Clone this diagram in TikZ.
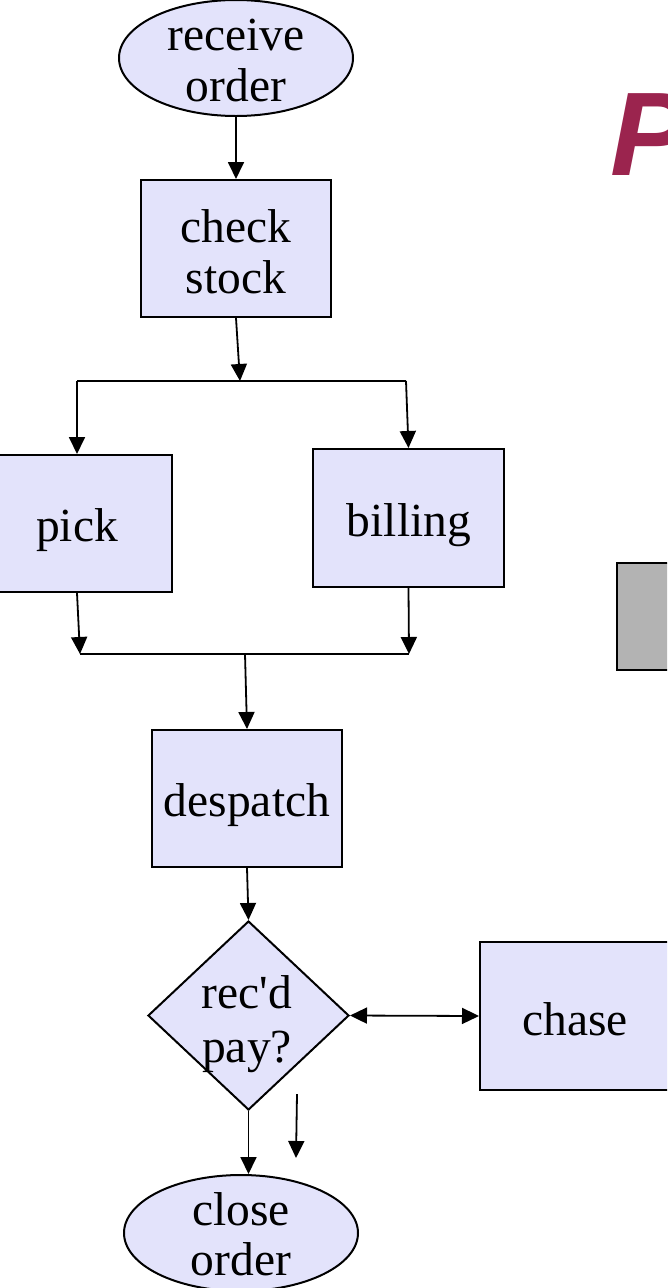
\documentclass[tikz,border=0pt]{standalone}
\usepackage{fontspec}
\setmainfont{Liberation Serif}[Ligatures=TeXOff]
\newfontfamily\headfont{Liberation Sans}
\usetikzlibrary{shapes.geometric, arrows.meta, calc}
\definecolor{boxfill}{RGB}{227,227,251}
\definecolor{titlered}{RGB}{155,36,78}
\definecolor{greybox}{RGB}{179,179,179}

\begin{document}
\begin{tikzpicture}[x=1pt, y=-1pt,
  shapeline/.style={draw=black, line width=2pt, fill=boxfill},
  procbox/.style={shapeline, rectangle, minimum width=190pt, minimum height=137pt, inner sep=0pt},
  termnode/.style={shapeline, ellipse, minimum width=234pt, minimum height=116pt, inner sep=0pt},
  decnode/.style={shapeline, diamond, minimum width=201pt, minimum height=189pt, inner sep=0pt},
  lbl/.style={font=\fontsize{47.5}{51}\selectfont, align=center, inner sep=0pt, anchor=base},
  flow/.style={line width=1.8pt},
  arr/.style={flow, -{Triangle[length=17pt,width=16pt]}},
  arrboth/.style={flow, {Triangle[length=17pt,width=16pt]}-{Triangle[length=17pt,width=16pt]}},
]
\useasboundingbox (0,0) rectangle (667,1288);
\clip (0,0) rectangle (667,1288);

% heading letter and the grey box at the right edge
\node[font=\headfont\bfseries\itshape\fontsize{119}{119}\selectfont, text=titlered,
      anchor=base west, inner sep=0pt] (title) at (610,175) {P};
\node[draw=black, line width=2pt, fill=greybox, minimum width=190pt,
      minimum height=107pt, inner sep=0pt] (grey) at (712,616.5) {};

% flow-chart shapes
\node[termnode] (recv) at (236,58) {};
\node[procbox] (chk) at (236,248.5) {};
\node[procbox] (pick) at (77,523.5) {};
\node[procbox, minimum width=191pt, minimum height=138pt] (bill) at (408.5,518) {};
\node[procbox] (desp) at (247,798.5) {};
\node[decnode] (dec) at (248.5,1015.5) {};
\node[procbox, minimum height=148pt] (chase) at (575,1016) {};
\node[termnode] (close) at (241,1233) {};

% labels (multi-line labels sit on the baseline of their last line)
\node[lbl] (t-recv) at (236,101) {receive\\order};
\node[lbl] (t-chk) at (236,293) {check\\stock};
\node[lbl] (t-pick) at (77,541.5) {pick};
\node[lbl] (t-bill) at (409,536.5) {billing};
\node[lbl] (t-desp) at (247,816.5) {despatch};
\node[lbl, font=\fontsize{47.5}{54.5}\selectfont] (t-dec) at (247,1062.5) {rec'd\\pay?};
\node[lbl] (t-chase) at (575,1035) {chase};
\node[lbl, font=\fontsize{47.5}{50}\selectfont] (t-close) at (241,1275) {close\\order};

% split and merge bars
\coordinate (jl) at (77,381);
\coordinate (jm) at (240,381);
\coordinate (jr) at (406,381);
\coordinate (ml) at (80,654);
\coordinate (mm) at (245,654);
\coordinate (mr) at (409,654);
\coordinate (s1) at (297,1094);
\coordinate (s2) at (296,1158);

% connectors
\draw[arr] (recv.south) -- (chk.north);
\draw[arr] (chk.south) -- (jm);
\draw[flow] (jl) -- (jr);
\draw[arr] (jl) -- (pick.north);
\draw[arr] (jr) -- (bill.north);
\draw[arr] (pick.south) -- (ml);
\draw[arr] (bill.south) -- (mr);
\draw[flow] (ml) -- (mr);
\draw[arr] (mm) -- (desp.north);
\draw[arr] (desp.south) -- (dec.north);
\draw[arrboth] (dec.east) -- (chase.west);
\draw[arr] (dec.south) -- (dec.south |- close.north);
\draw[arr] (s1) -- (s2);
\end{tikzpicture}
\end{document}
